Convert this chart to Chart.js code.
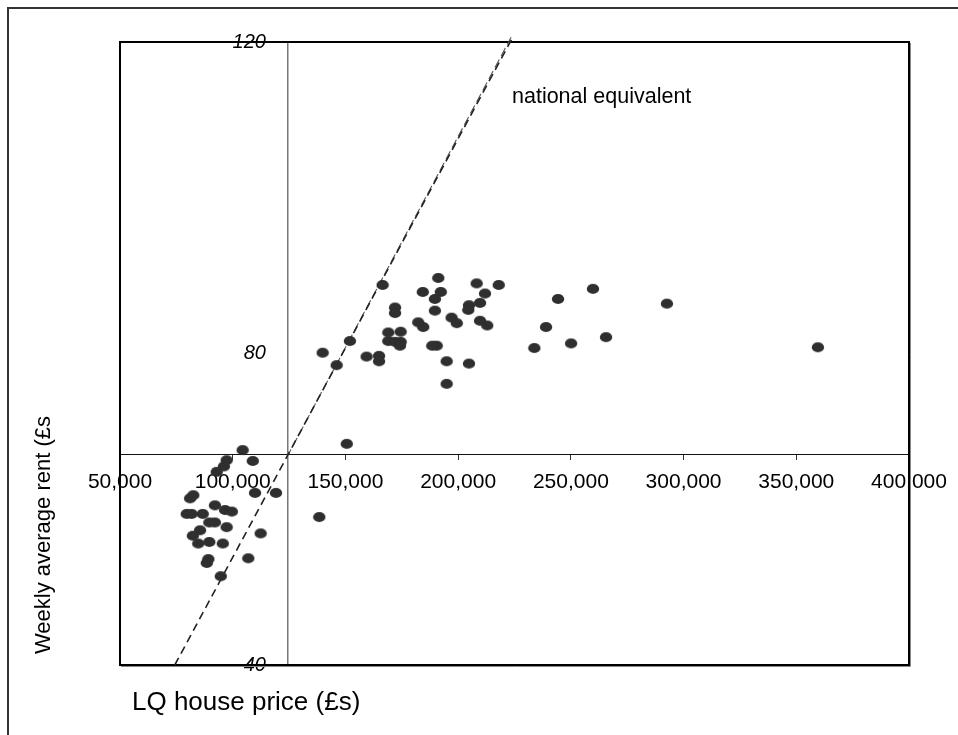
<!DOCTYPE html>
<html>
<head>
<meta charset="utf-8">
<script src="https://cdn.jsdelivr.net/npm/chart.js@4.4.0/dist/chart.umd.min.js"></script>
<style>
  html, body { margin: 0; padding: 0; background: #fff; }
  #wrap { position: relative; width: 958px; height: 735px; overflow: hidden; }
  #frame { position: absolute; left: 7px; top: 7px; width: 1000px; height: 800px;
           border-left: 2px solid #333; border-top: 2px solid #333; }
  #myChart { position: absolute; left: 0; top: 0; }
</style>
</head>
<body>
<div id="wrap">
  <div id="frame"></div>
  <canvas id="myChart" width="958" height="735"></canvas>
</div>
<script>
// LQ house price (£) against weekly average rent (£) for each area
const housePrice = [
  104400, 97300, 96100, 108900, 92900, 82500, 81100, 109900, 119200, 92100,
  96600, 99600, 79600, 81800, 86700, 89600, 92100, 97300, 85500, 82300,
  84700, 89600, 95600, 112400, 89200, 88500, 106900, 94700, 138400, 150600,
  191200, 208200, 218000, 166500, 184300, 192300, 189700, 211900, 209700, 204800,
  204500, 172000, 172000, 189700, 197100, 199400, 182300, 184500, 209700, 212900,
  169000, 174500, 169000, 172000, 174500, 174200, 152000, 190500, 188500, 139900,
  159400, 164900, 164900, 146100, 194900, 204800, 194900, 233800,
  244300, 239000, 250100, 259800, 265600, 292600, 359600
];
const weeklyRent = [
  67.6, 66.3, 65.5, 66.2, 64.8, 61.8, 61.4, 62.1, 62.1, 60.5,
  59.9, 59.7, 59.4, 59.4, 59.4, 58.3, 58.3, 57.7, 57.3, 56.6,
  55.6, 55.8, 55.6, 56.9, 53.6, 53.1, 53.7, 51.4, 59.0, 68.4,
  89.7, 89.0, 88.8, 88.8, 87.9, 87.9, 87.0, 87.7, 86.5, 86.2,
  85.6, 85.9, 85.2, 85.5, 84.6, 83.9, 84.0, 83.4, 84.2, 83.6,
  82.7, 82.8, 81.6, 81.5, 81.5, 81.0, 81.6, 81.0, 81.0, 80.1,
  79.6, 79.7, 79.0, 78.5, 79.0, 78.7, 76.1, 80.7,
  87.0, 83.4, 81.3, 88.3, 82.1, 86.4, 80.8
];

// national rent / price equivalent line (two overlapping traces)
const nationalX = [74300, 224200];
const nationalY = [40, 120.6];
const nationalX2 = [124600, 223500];
const nationalY2 = [67, 120.6];

// where the axes cross
const crossPrice = 124600;
const crossRent = 67;

const xTicks = [50000, 400000, 50000];   // min, max, step
const yTicks = [40, 120, 40];

const toPts = (xs, ys) => xs.map((x, i) => ({ x: x, y: ys[i] }));

// oval marker
const dot = document.createElement('canvas');
dot.width = 14; dot.height = 12;
const dctx = dot.getContext('2d');
dctx.fillStyle = '#2f2f2f';
dctx.beginPath();
dctx.ellipse(7, 6, 6.2, 5.1, 0, 0, Math.PI * 2);
dctx.fill();

const FONT = '"Liberation Sans", Arial, sans-serif';
Chart.defaults.font.family = FONT;
Chart.defaults.color = '#000';

const framePlugin = {
  id: 'frame',
  beforeDatasetsDraw(chart) {
    const { ctx, chartArea: a } = chart;
    ctx.save();
    ctx.strokeStyle = '#000';
    ctx.lineWidth = 2;
    ctx.strokeRect(a.left, a.top, a.right - a.left, a.bottom - a.top);
    ctx.strokeStyle = '#888';
    ctx.lineWidth = 1;
    ctx.beginPath();
    ctx.moveTo(a.right + 1.5, a.top + 1);
    ctx.lineTo(a.right + 1.5, a.bottom + 1.5);
    ctx.lineTo(a.left + 1, a.bottom + 1.5);
    ctx.stroke();
    ctx.restore();
  },
  afterDraw(chart) {
    const { ctx } = chart;
    ctx.save();
    ctx.fillStyle = '#000';
    ctx.textAlign = 'left';
    ctx.textBaseline = 'alphabetic';
    ctx.font = '21.5px ' + FONT;
    ctx.fillText('national equivalent', 512, 103);
    ctx.font = '26px ' + FONT;
    ctx.fillText('LQ house price (£s)', 132, 710);
    ctx.translate(50, 535);
    ctx.rotate(-Math.PI / 2);
    ctx.textAlign = 'center';
    ctx.font = '22px ' + FONT;
    ctx.fillText('Weekly average rent (£s', 0, 0);
    ctx.restore();
  }
};

new Chart(document.getElementById('myChart'), {
  type: 'scatter',
  data: {
    datasets: [
      {
        label: 'areas',
        data: toPts(housePrice, weeklyRent),
        pointStyle: dot,
        pointRadius: 6,
        pointHoverRadius: 6,
        order: 0
      },
      {
        label: 'national equivalent',
        data: toPts(nationalX, nationalY),
        showLine: true,
        borderColor: '#222',
        borderWidth: 1.6,
        borderDash: [8, 5],
        pointRadius: 0,
        clip: false,
        order: 1
      },
      {
        label: 'national equivalent 2',
        data: toPts(nationalX2, nationalY2),
        showLine: true,
        borderColor: '#555',
        borderWidth: 1.1,
        borderDash: [9, 4],
        borderDashOffset: 3,
        pointRadius: 0,
        clip: false,
        order: 2
      }
    ]
  },
  options: {
    responsive: false,
    animation: false,
    events: [],
    layout: { autoPadding: false, padding: { left: 120, top: 42, right: 49, bottom: 70 } },
    plugins: { legend: { display: false }, tooltip: { enabled: false } },
    scales: {
      x: {
        type: 'linear',
        min: xTicks[0], max: xTicks[1],
        position: { y: crossRent },
        afterFit: s => { s.height = 0; s.paddingLeft = 0; s.paddingRight = 0; },
        ticks: {
          stepSize: xTicks[2], autoSkip: false, maxRotation: 0, padding: 10,
          font: { size: 21 },
          callback: v => v.toLocaleString('en-US')
        },
        grid: { drawOnChartArea: false, tickLength: 5, color: '#333' },
        border: { color: '#111', width: 1 }
      },
      y: {
        type: 'linear',
        min: yTicks[0], max: yTicks[1],
        position: { x: crossPrice },
        afterFit: s => { s.width = 0; s.paddingTop = 0; s.paddingBottom = 0; },
        // labels sit to the left of the crossing line; trailing spaces give the gap
        ticks: { stepSize: yTicks[2], font: { size: 20, style: 'italic' }, callback: v => v + '    ' },
        grid: { drawOnChartArea: false, drawTicks: false },
        border: { color: '#777', width: 1.5 }
      }
    }
  },
  plugins: [framePlugin]
});
</script>
</body>
</html>
